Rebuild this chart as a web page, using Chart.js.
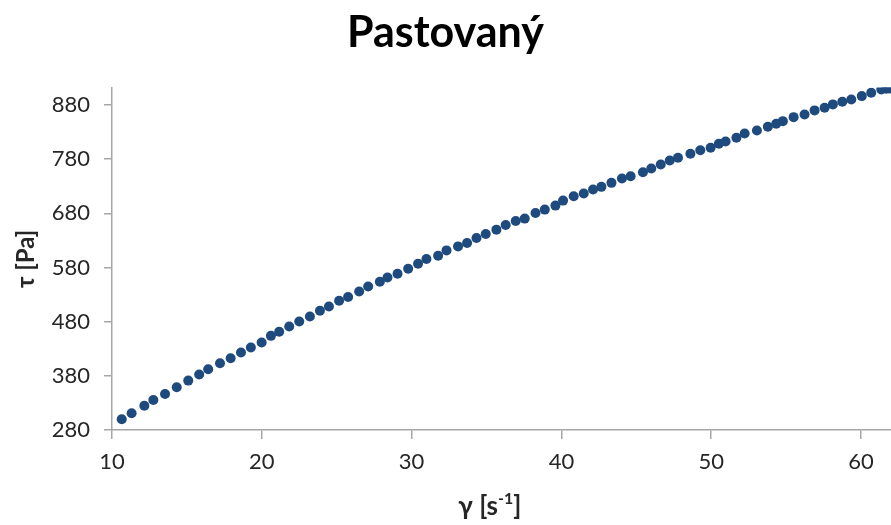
<!DOCTYPE html>
<html>
<head>
<meta charset="utf-8">
<script src="https://cdn.jsdelivr.net/npm/chart.js@4/dist/chart.umd.min.js"></script>
<style>
  html, body { margin: 0; padding: 0; background: #ffffff; }
  #wrap { width: 891px; height: 525px; }
</style>
</head>
<body>
<div id="wrap"><canvas id="c" width="891" height="525"></canvas></div>
<script>
// Shear rate γ [1/s] and shear stress τ [Pa] of the measured flow curve
const shearRate = [
  10.65, 11.31, 12.16, 12.76, 13.54, 14.32, 15.09, 15.82, 16.42, 17.21,
  17.92, 18.61, 19.27, 19.99, 20.61, 21.16, 21.83, 22.50, 23.21, 23.88,
  24.48, 25.16, 25.76, 26.50, 27.10, 27.88, 28.39, 29.06, 29.77, 30.43,
  30.99, 31.77, 32.33, 33.10, 33.70, 34.33, 34.95, 35.66, 36.28, 36.95,
  37.55, 38.27, 38.89, 39.60, 40.11, 40.82, 41.49, 42.11, 42.67, 43.34,
  44.04, 44.62, 45.44, 46.00, 46.63, 47.23, 47.78, 48.61, 49.27, 49.96,
  50.51, 50.96, 51.68, 52.23, 53.05, 53.78, 54.34, 54.78, 55.50, 56.23,
  56.90, 57.57, 58.12, 58.75, 59.35, 60.05, 60.68, 61.35, 61.68, 61.90
];
const shearStress = [
  299.8, 310.9, 324.9, 335.5, 346.6, 359.0, 371.2, 382.3, 392.2, 403.3,
  412.6, 422.9, 432.2, 441.4, 453.8, 461.2, 471.0, 480.3, 489.5, 500.0,
  508.0, 518.5, 525.4, 535.7, 545.0, 553.7, 561.6, 568.5, 577.7, 587.0,
  595.6, 601.7, 611.5, 618.9, 625.2, 634.5, 641.9, 649.8, 658.5, 665.9,
  670.2, 680.7, 686.8, 694.2, 703.4, 711.4, 716.4, 723.8, 728.8, 736.2,
  744.1, 748.4, 755.8, 762.6, 770.0, 777.4, 782.4, 789.8, 796.5, 800.9,
  808.3, 812.5, 819.4, 827.3, 832.9, 839.7, 845.3, 850.1, 857.5, 862.5,
  869.9, 874.9, 881.0, 886.0, 890.2, 896.3, 902.6, 908.7, 910.0, 910.5
];
const xTicks = [10, 20, 30, 40, 50, 60];
const yTicks = [280, 380, 480, 580, 680, 780, 880];

const chartTitle = 'Pastovaný';
const yTitle = 'τ [Pa]';
const xTitleBase = 'γ [s';
const xTitleSup = '-1';
const xTitleEnd = ']';

const FONT = 'Lato, "Open Sans", "DejaVu Sans", sans-serif';
const AXIS = '#a6a6a6';
const INK = '#262626';

const points = shearRate.map((x, i) => ({ x: x, y: shearStress[i] }));

// x-axis title with a raised exponent
const xTitlePlugin = {
  id: 'xTitle',
  afterDraw(chart) {
    const ctx = chart.ctx;
    const area = chart.chartArea;
    const big = 'bold 26px ' + FONT;
    const small = 'bold 16px ' + FONT;
    ctx.save();
    ctx.fillStyle = INK;
    ctx.textBaseline = 'alphabetic';
    ctx.font = big;
    const w1 = ctx.measureText(xTitleBase).width;
    const w3 = ctx.measureText(xTitleEnd).width;
    ctx.font = small;
    const w2 = ctx.measureText(xTitleSup).width;
    const total = w1 + w2 + w3;
    const cx = area.left + (area.right - area.left) * 0.485;
    let x = cx - total / 2;
    const base = 515;
    ctx.font = big;
    ctx.fillText(xTitleBase, x, base);
    x += w1;
    ctx.font = small;
    ctx.fillText(xTitleSup, x, base - 11);
    x += w2;
    ctx.font = big;
    ctx.fillText(xTitleEnd, x, base);
    ctx.restore();
  }
};

new Chart(document.getElementById('c'), {
  type: 'scatter',
  data: {
    datasets: [{
      label: chartTitle,
      data: points,
      backgroundColor: '#1f4a7e',
      borderColor: '#1f4a7e',
      borderWidth: 0,
      pointRadius: 5,
      pointHoverRadius: 5
    }]
  },
  options: {
    responsive: false,
    animation: false,
    devicePixelRatio: 1,
    layout: { autoPadding: false, padding: { left: 0, right: 0, top: 0, bottom: 0 } },
    plugins: {
      legend: { display: false },
      tooltip: { enabled: false },
      title: {
        display: true,
        text: chartTitle,
        color: '#000000',
        font: { family: FONT, size: 43, weight: 'bold', lineHeight: 1.2 },
        padding: { top: 7, bottom: 29 }
      }
    },
    scales: {
      x: {
        type: 'linear',
        min: 10,
        max: 62,
        afterBuildTicks: s => { s.ticks = xTicks.map(v => ({ value: v })); },
        afterFit: s => { s.height = 95; s.paddingRight = 0; s.paddingLeft = 0; },
        border: { display: true, color: AXIS, width: 1.5 },
        grid: { display: true, drawOnChartArea: false, drawTicks: true, tickLength: 9, color: AXIS, lineWidth: 1.5 },
        ticks: { color: INK, font: { family: FONT, size: 22 }, padding: 10, maxRotation: 0 },
        title: { display: false }
      },
      y: {
        type: 'linear',
        min: 280,
        max: 912,
        afterBuildTicks: s => { s.ticks = yTicks.map(v => ({ value: v })); },
        afterFit: s => { s.width = 112; s.paddingTop = 0; s.paddingBottom = 0; },
        border: { display: true, color: AXIS, width: 1.5 },
        grid: { display: true, drawOnChartArea: false, drawTicks: true, tickLength: 8, color: AXIS, lineWidth: 1.5 },
        ticks: { color: INK, font: { family: FONT, size: 22 }, padding: 14 },
        title: {
          display: true,
          text: yTitle,
          color: INK,
          font: { family: FONT, size: 24, weight: 'bold' },
          padding: { top: 12, bottom: 0 }
        }
      }
    }
  },
  plugins: [xTitlePlugin]
});
</script>
</body>
</html>
